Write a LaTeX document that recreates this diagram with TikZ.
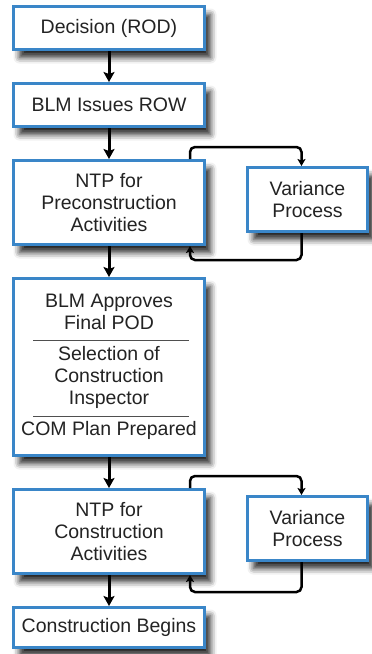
\documentclass[tikz,border=0pt]{standalone}
\usepackage{fontspec}
\setmainfont{Liberation Sans}
\usetikzlibrary{shapes.geometric, arrows.meta, positioning, shadows.blur}
\definecolor{boxblue}{RGB}{58,134,200}
\definecolor{inkgray}{RGB}{35,35,35}
\tikzstyle{process} = [rectangle, minimum width=191pt, minimum height=43pt, text centered, align=center, draw=boxblue, line width=3pt, fill=white, text=inkgray, font=\fontsize{19.5}{22}\selectfont, blur shadow={shadow xshift=6pt, shadow yshift=-8pt, shadow blur radius=6pt, shadow opacity=85}]
\tikzstyle{variance} = [process, minimum width=120pt, minimum height=64pt]
\tikzstyle{arrow} = [line width=3pt,->,>={Stealth[length=10pt,width=11pt,inset=2pt]}]
\tikzstyle{loopback} = [line width=2.5pt,->,>={Stealth[length=7pt,width=8pt,inset=1.5pt]}, rounded corners=5pt]
\tikzstyle{divider} = [line width=1pt, draw=inkgray!80]
\begin{document}
\begin{tikzpicture}[node distance=31pt]
\useasboundingbox (0,0) rectangle (372pt,-654pt);
\node (rod) [process] at (109pt,-28pt) {Decision (ROD)};
\node (row) [process, below=of rod] {BLM Issues ROW};
\node (ntppre) [process, minimum height=84pt, below=of row] {NTP for\\Preconstruction\\Activities};
\node (varpre) [variance, right=40pt of ntppre, yshift=3pt] {Variance\\Process};
\node (pod) [process, minimum height=177pt, below=of ntppre] {BLM Approves\\Final POD\\[9pt]Selection of\\Construction\\Inspector\\[9pt]COM Plan Prepared};
\node (ntpcon) [process, minimum height=84pt, below=of pod] {NTP for\\Construction\\Activities};
\node (varcon) [variance, right=40pt of ntpcon, yshift=3pt] {Variance\\Process};
\node (begin) [process, minimum height=40pt, below=of ntpcon] {Construction Begins};
% dividers inside the approval box
\draw [divider] ([xshift=-76pt, yshift=27pt]pod.center) -- ([xshift=80pt, yshift=27pt]pod.center);
\draw [divider] ([xshift=-76pt, yshift=-49pt]pod.center) -- ([xshift=80pt, yshift=-49pt]pod.center);
\draw [arrow] (rod) -- (row);
\draw [arrow] (row) -- (ntppre);
\draw [arrow] (ntppre) -- (pod);
\draw [arrow] (pod) -- (ntpcon);
\draw [arrow] (ntpcon) -- (begin);
% variance loops
\draw [loopback] ([xshift=81pt]ntppre.north) -- ++(0,12pt) -| ([xshift=-6pt]varpre.north);
\draw [loopback] ([xshift=-6pt]varpre.south) -- ++(0,-27pt) -| ([xshift=81pt]ntppre.south);
\draw [loopback] ([xshift=81pt]ntpcon.north) -- ++(0,12pt) -| ([xshift=-6pt]varcon.north);
\draw [loopback] ([xshift=-6pt]varcon.south) -- ++(0,-30pt) -| ([xshift=81pt]ntpcon.south);
\end{tikzpicture}
\end{document}
